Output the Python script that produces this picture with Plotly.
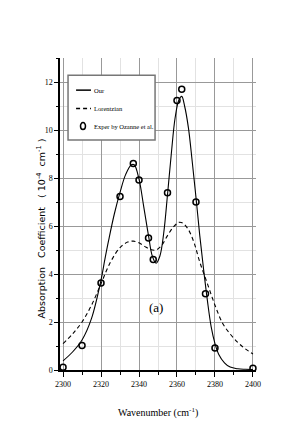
import plotly.graph_objects as go

# Model curve ("Our")
our_x = [2300, 2305, 2310, 2315, 2320, 2322, 2324, 2327, 2330, 2333, 2336, 2337.5, 2340,
         2342.5, 2345, 2347, 2349, 2351, 2353, 2355, 2357, 2359, 2361, 2362.5, 2364, 2366,
         2368, 2370, 2372, 2374, 2376, 2378, 2380, 2382, 2385, 2388, 2392, 2396, 2400]
our_y = [0.38, 0.75, 1.25, 2.15, 3.75, 4.6, 5.4, 6.5, 7.4, 8.15, 8.55, 8.55, 7.95,
         6.8, 5.6, 4.75, 4.45, 4.75, 5.7, 7.3, 9.0, 10.5, 11.25, 11.4, 11.0, 10.1,
         8.7, 7.2, 5.6, 4.2, 2.9, 1.8, 1.1, 0.65, 0.3, 0.12, 0.05, 0.03, 0.02]

# Lorentzian curve
lor_x = [2300, 2305, 2310, 2315, 2320, 2325, 2330, 2334, 2337, 2340, 2343, 2346, 2349,
         2352, 2355, 2358, 2361, 2363, 2366, 2369, 2372, 2376, 2380, 2384, 2388, 2392,
         2396, 2400]
lor_y = [1.1, 1.5, 2.0, 2.7, 3.6, 4.5, 5.1, 5.33, 5.37, 5.3, 5.15, 5.02, 5.0,
         5.2, 5.6, 5.95, 6.15, 6.12, 5.85, 5.3, 4.5, 3.6, 2.7, 1.95, 1.5, 1.15,
         0.88, 0.67]

# Experimental points (Ozanne et al.)
exp_x = [2300, 2310, 2320, 2330, 2337, 2340, 2345, 2347.5, 2355, 2360, 2362.5, 2370,
         2375, 2380, 2400]
exp_y = [0.11, 1.02, 3.63, 7.23, 8.6, 7.92, 5.5, 4.6, 7.39, 11.23, 11.7, 7.0,
         3.18, 0.92, 0.07]

x_ticks = [2300, 2320, 2340, 2360, 2380, 2400]
y_ticks = [0, 2, 4, 6, 8, 10, 12]

legend_names = ["Our", "Lorentzian", "Exper by Ozanne et al."]

serif = "Liberation Serif"

fig = go.Figure()
fig.add_trace(go.Scatter(x=our_x, y=our_y, mode="lines", name=legend_names[0],
                         line=dict(color="black", width=1.1, shape="spline")))
fig.add_trace(go.Scatter(x=lor_x, y=lor_y, mode="lines", name=legend_names[1],
                         line=dict(color="black", width=1.1, dash="4px,3px", shape="spline")))
fig.add_trace(go.Scatter(x=exp_x, y=exp_y, mode="markers", name=legend_names[2],
                         cliponaxis=False,
                         marker=dict(symbol="circle-open", size=6, color="black",
                                     line=dict(width=1.5, color="black"))))

fig.update_layout(
    width=289, height=436,
    margin=dict(l=52, r=41, t=50, b=74),
    paper_bgcolor="white", plot_bgcolor="white",
    font=dict(family=serif, color="black", size=8),
    showlegend=False,
)

fig.update_xaxes(
    range=[2298.4, 2401.6], tickvals=x_ticks, ticktext=[str(v) for v in x_ticks],
    ticks="outside", ticklen=5, tickcolor="black", tickwidth=1,
    showline=True, linecolor="black", linewidth=2,
    showgrid=True, gridcolor="#999", gridwidth=1, zeroline=False,
    tickfont=dict(family=serif, size=8),
    minor=dict(dtick=10, tick0=2300, ticks="outside", ticklen=3, tickcolor="black",
               showgrid=True, gridcolor="#e2e2e2", gridwidth=1),
)
fig.update_yaxes(
    range=[0, 13], tickvals=y_ticks, ticktext=[str(v) for v in y_ticks],
    ticks="outside", ticklen=4, tickcolor="black", tickwidth=1,
    showline=True, linecolor="black", linewidth=1.5,
    showgrid=True, gridcolor="#999", gridwidth=1, zeroline=False,
    tickfont=dict(family=serif, size=8),
    minor=dict(dtick=1, tick0=0, ticks="outside", ticklen=2, tickcolor="black",
               showgrid=True, gridcolor="#e2e2e2", gridwidth=1),
)

# Legend box (drawn manually to match the compact original)
fig.add_shape(type="rect", xref="paper", yref="paper", x0=0.041, x1=0.485, y0=0.737, y1=0.945,
              line=dict(color="#777", width=1.5), fillcolor="white", layer="above")
fig.add_shape(type="line", xref="paper", yref="paper", x0=0.082, x1=0.158, y0=0.897, y1=0.897,
              line=dict(color="black", width=1.5), layer="above")
fig.add_shape(type="line", xref="paper", yref="paper", x0=0.082, x1=0.158, y0=0.838, y1=0.838,
              line=dict(color="black", width=1.5, dash="4px,3px"), layer="above")
fig.add_shape(type="circle", xref="paper", yref="paper", x0=0.1046, x1=0.130, y0=0.7706, y1=0.7931,
              line=dict(color="black", width=1.5), layer="above")
for name, yy in zip(legend_names, [0.897, 0.838, 0.782]):
    fig.add_annotation(x=0.163, y=yy, xref="paper", yref="paper", text=name,
                       showarrow=False, xanchor="left", yanchor="middle",
                       font=dict(family=serif, size=6.5, color="black"))

fig.add_annotation(x=2348.7, y=2.6, xref="x", yref="y", text="(a)", showarrow=False,
                   font=dict(family=serif, size=13, color="black"))
fig.add_annotation(x=0.5, y=-0.165, xref="paper", yref="paper",
                   text="Wavenumber (cm<sup>-1</sup>)", showarrow=False,
                   font=dict(family=serif, size=10, color="black"))
fig.add_annotation(x=-0.095, y=0.455, xref="paper", yref="paper", textangle=-90,
                   text="Absorption   Coefficient   ( 10<sup>-4</sup>  cm<sup>-1</sup> )",
                   showarrow=False, xanchor="center", yanchor="middle",
                   font=dict(family="DejaVu Sans", size=9.5, color="black"))

fig.write_html("out.html")
